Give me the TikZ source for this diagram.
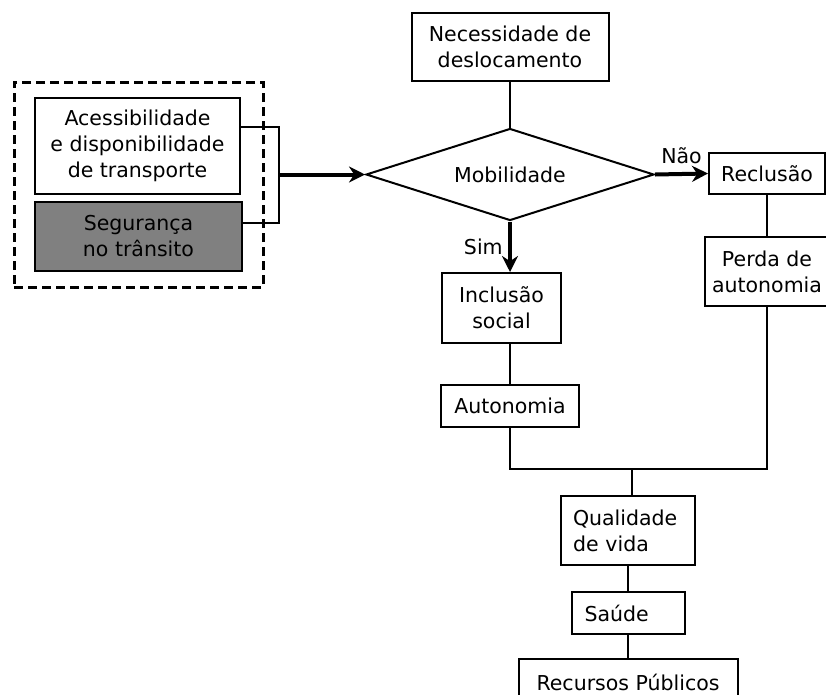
\documentclass[tikz,border=0pt]{standalone}
\usepackage{fontspec}
\setmainfont{DejaVu Sans}
\usetikzlibrary{shapes.geometric, arrows.meta, fit}

\begin{document}
\begin{tikzpicture}[
    x=1pt, y=-1pt,
    font=\fontsize{20.5}{26}\selectfont,
    box/.style={rectangle, draw, line width=2pt, inner sep=0pt, align=center},
    decisao/.style={diamond, draw, line width=2pt, inner sep=0pt, aspect=3.13, minimum width=288pt, minimum height=92pt},
    linha/.style={line width=2pt},
    seta/.style={-{Stealth[length=16pt, width=16pt]}, line width=4pt}
  ]
  \useasboundingbox (0,0) rectangle (826,694);

  % Necessidade
  \node[box, minimum width=197pt, minimum height=68pt] (necess) at (510,47) {Necessidade de\\deslocamento};

  % Decisao
  \node[decisao] (mob) at (510,174.5) {Mobilidade};

  % Grupo da esquerda
  \node[box, minimum width=205pt, minimum height=96pt] (acess) at (137.5,146) {Acessibilidade\\e disponibilidade\\de transporte};
  \node[box, fill=gray, minimum width=207pt, minimum height=69pt] (seg) at (138.5,236.5) {Segurança\\no trânsito};
  \node[draw, line width=3pt, dash pattern=on 9pt off 5pt, fit=(acess)(seg), inner xsep=20pt, inner ysep=15pt] (grupo) {};
  \coordinate (braco) at (279,174.5);

  % Ramo Nao
  \node[box, minimum width=116pt, minimum height=41pt] (reclusao) at (767,173.5) {Reclusão};
  \node[box, minimum width=124pt, minimum height=69pt] (perda) at (767,271.5) {Perda de\\autonomia};

  % Ramo Sim
  \node[box, minimum width=119pt, minimum height=70pt] (inclusao) at (501.5,308) {Inclusão\\social};
  \node[box, minimum width=138pt, minimum height=42pt] (autonomia) at (510,406) {Autonomia};

  % Resultado
  \coordinate (juncao) at (632,469);
  \node[box, align=left, text width=110pt, inner xsep=12pt, minimum height=69pt] (qualidade) at (628,530.5) {Qualidade\\de vida};
  \node[box, align=left, text width=87pt, inner xsep=13pt, minimum height=42pt] (saude) at (628,613) {Saúde};
  \node[box, minimum width=219pt, minimum height=46pt] (recursos) at (628,682) {Recursos Públicos};

  % Conexoes
  \draw[linha] ([yshift=19pt]acess.east) -| (braco) |- ([yshift=14pt]seg.east);
  \draw[seta] (braco) -- (mob.west);
  \draw[linha] (necess.south) -- (mob.north);
  \draw[seta] (mob.east) -- node[above=5pt] {Não} (reclusao.west);
  \draw[seta] (mob.south) -- node[left=2pt] {Sim} (mob.south |- inclusao.north);
  \draw[linha] (inclusao.south -| autonomia) -- (autonomia.north);
  \draw[linha] (reclusao.south) -- (perda.north);
  \draw[linha] (perda.south) |- (autonomia.south |- juncao) -- (autonomia.south);
  \draw[linha] (juncao) -- (juncao |- qualidade.north);
  \draw[linha] (qualidade.south) -- (saude.north);
  \draw[linha] (saude.south) -- (recursos.north);

\end{tikzpicture}
\end{document}
